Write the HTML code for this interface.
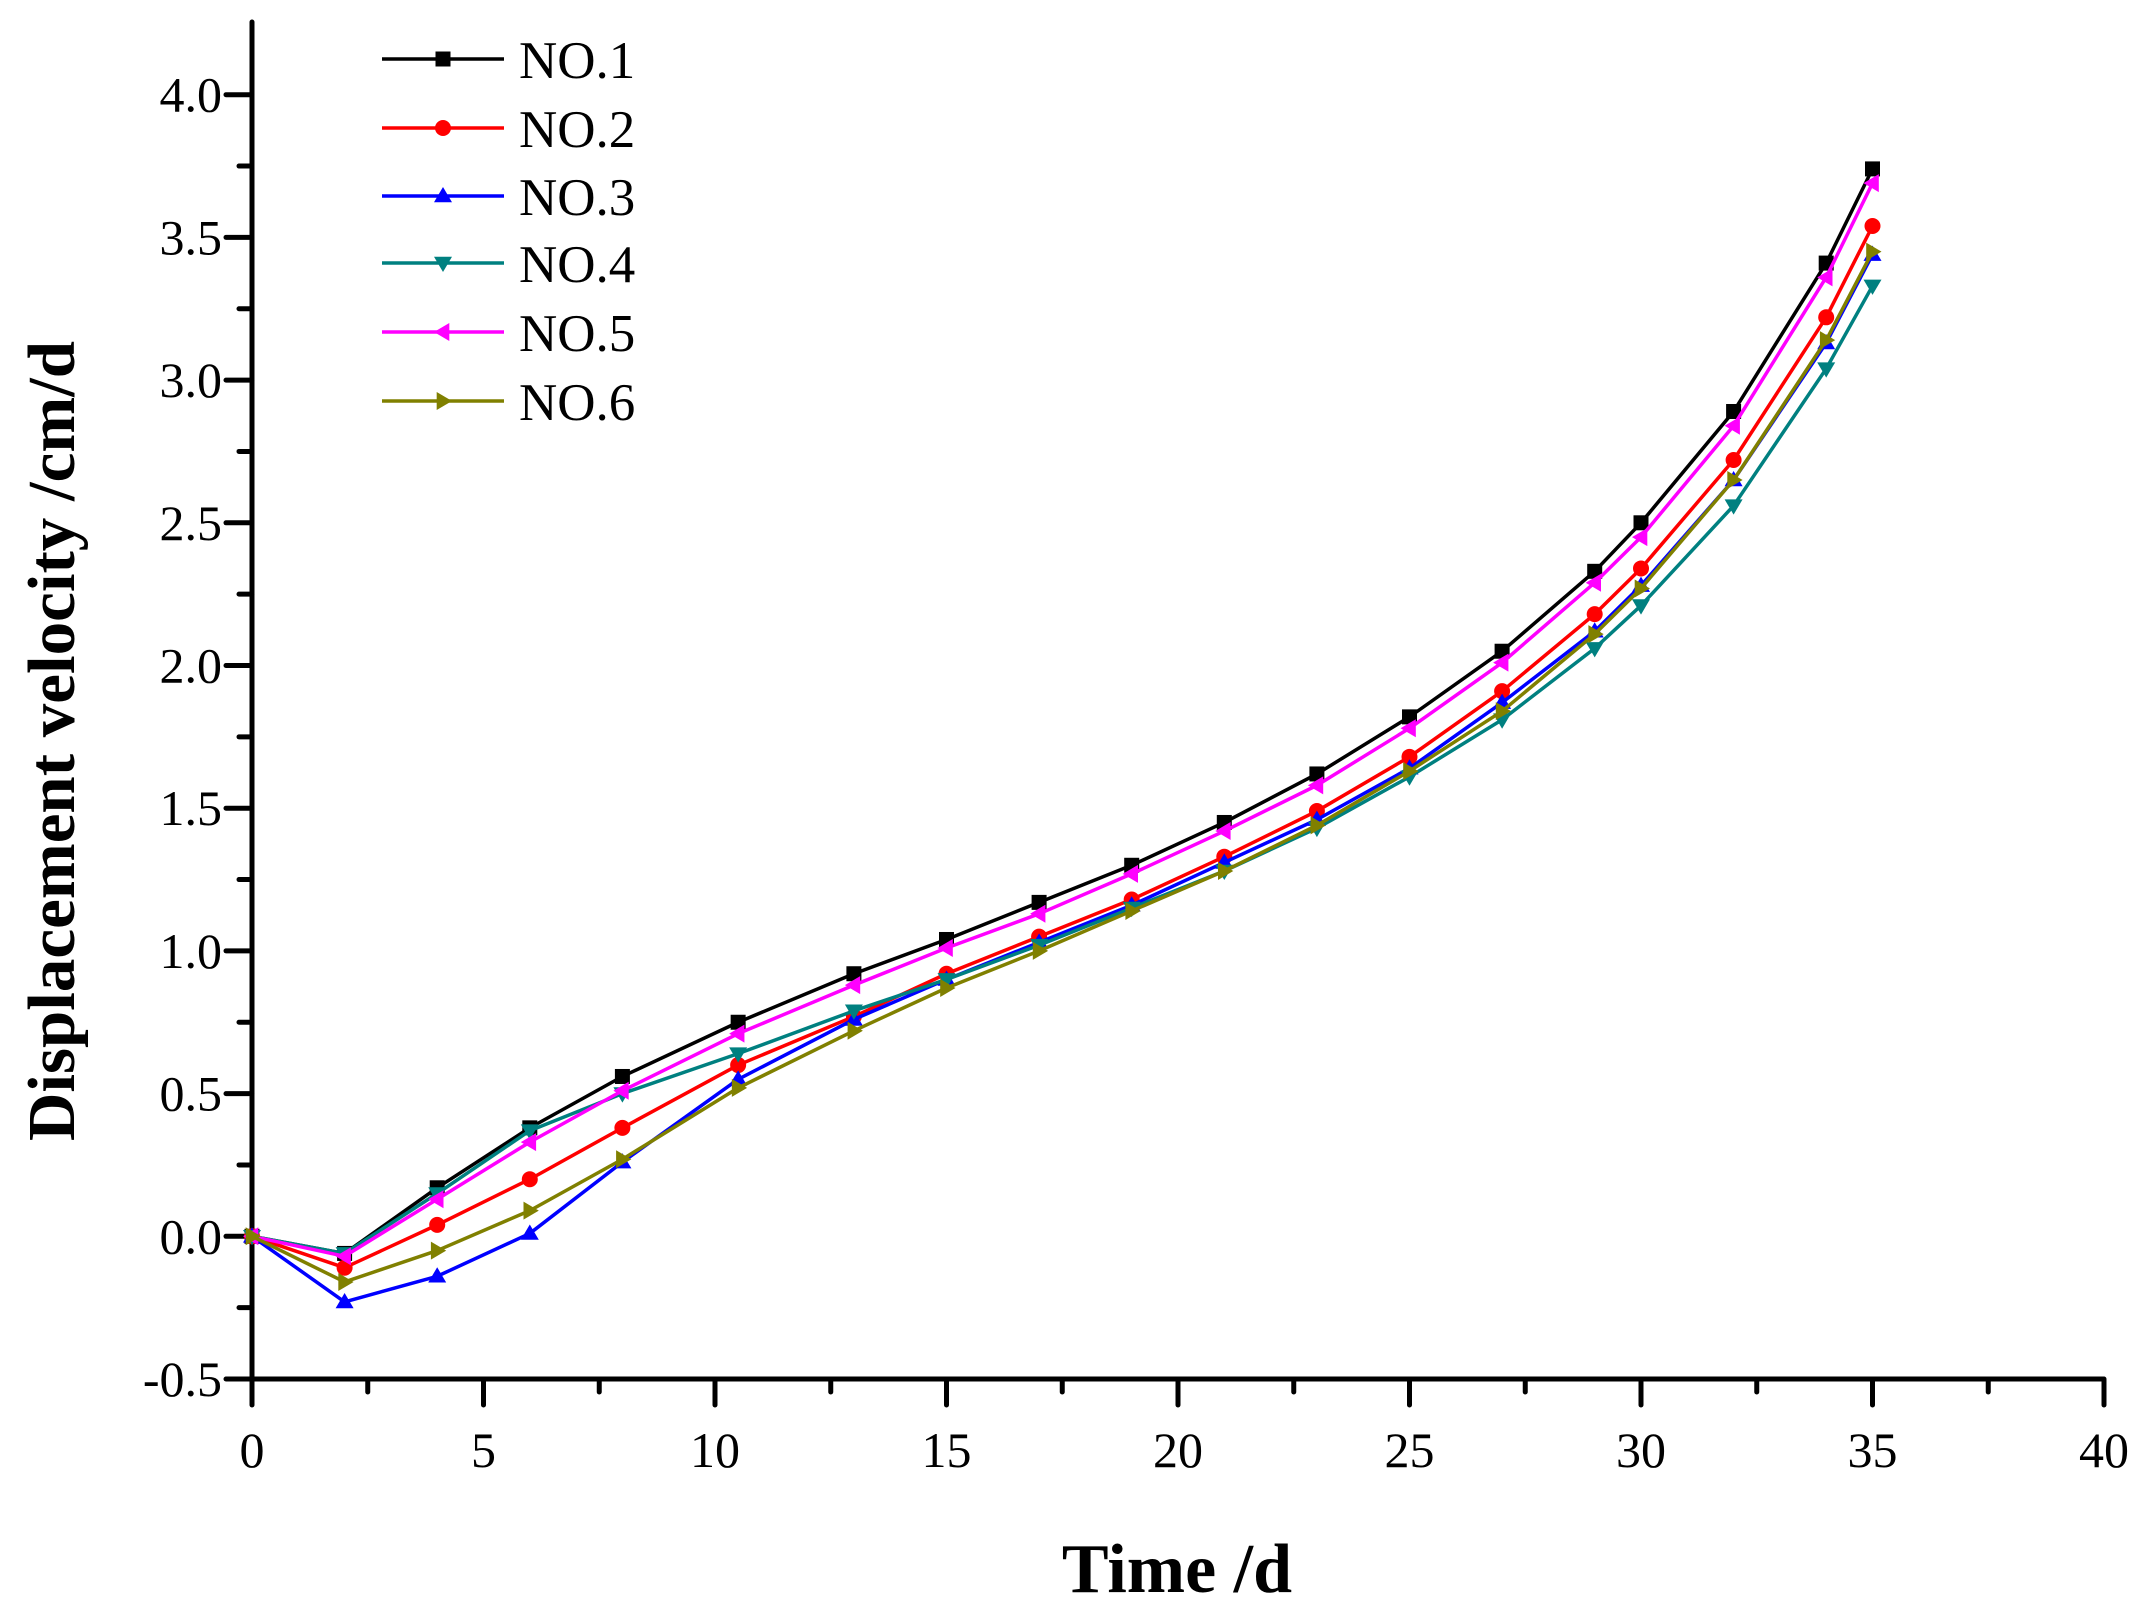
<!DOCTYPE html>
<html><head><meta charset="utf-8"><style>
html,body{margin:0;padding:0;background:#fff;}
svg{display:block;}
text{font-family:"Liberation Serif",serif;fill:#000;}
</style></head><body>
<svg id="s" width="2151" height="1618" viewBox="0 0 2151 1618" xmlns="http://www.w3.org/2000/svg">
<g id="ax" stroke="#000" stroke-width="5" stroke-linecap="round"></g>
<g id="lab" font-size="50"></g>
<g id="ser"></g>
<text x="1177" y="1592" font-size="70" font-weight="bold" text-anchor="middle">Time /d</text>
<text transform="translate(74,741) rotate(-90)" font-size="67" font-weight="bold" text-anchor="middle">Displacement velocity /cm/d</text>
<g id="leg" font-size="53"></g>
</svg>
<script>
const NS="http://www.w3.org/2000/svg";
function el(p,t,a,txt){const e=document.createElementNS(NS,t);for(const k in a)e.setAttribute(k,a[k]);if(txt!==undefined)e.textContent=txt;p.appendChild(e);return e;}
const X0=252,PX=46.3,Y0=1236.3,PY=285.4;
const fx=x=>X0+x*PX, fy=v=>Y0-v*PY;
const ax=document.getElementById('ax'),lab=document.getElementById('lab');
el(ax,'line',{x1:252,y1:22,x2:252,y2:1379});
el(ax,'line',{x1:252,y1:1379,x2:2103,y2:1379});
for(let i=0;i<=18;i++){const v=-0.5+i*0.25;const y=fy(v);const maj=i%2==0;
 el(ax,'line',{x1:252,y1:y,x2:maj?226:239,y2:y});
 if(maj) el(lab,'text',{x:222,y:y+17,'text-anchor':'end'},v.toFixed(1));}
for(let i=0;i<=16;i++){const x=i*2.5;const px=fx(x);const maj=i%2==0;
 el(ax,'line',{x1:px,y1:1379,x2:px,y2:maj?1405:1392});
 if(maj) el(lab,'text',{x:px,y:1467,'text-anchor':'middle'},String(x));}
const xs=[0,2,4,6,8,10.5,13,15,17,19,21,23,25,27,29,30,32,34,35];
const S=[
['#000','sq',[0,-0.06,0.17,0.38,0.56,0.75,0.92,1.04,1.17,1.30,1.45,1.62,1.82,2.05,2.33,2.50,2.89,3.41,3.74]],
['#f00','ci',[0,-0.11,0.04,0.20,0.38,0.60,0.77,0.92,1.05,1.18,1.33,1.49,1.68,1.91,2.18,2.34,2.72,3.22,3.54]],
['#00f','up',[0,-0.23,-0.14,0.01,0.26,0.55,0.76,0.90,1.03,1.16,1.31,1.46,1.64,1.87,2.12,2.28,2.65,3.13,3.44]],
['#008080','dn',[0,-0.06,0.15,0.37,0.50,0.64,0.79,0.90,1.02,1.15,1.28,1.43,1.61,1.81,2.06,2.21,2.56,3.04,3.33]],
['#f0f','lt',[0,-0.07,0.13,0.33,0.51,0.71,0.88,1.01,1.13,1.27,1.42,1.58,1.78,2.01,2.29,2.45,2.84,3.36,3.69]],
['#808000','rt',[0,-0.16,-0.05,0.09,0.27,0.52,0.72,0.87,1.00,1.14,1.28,1.44,1.63,1.84,2.11,2.27,2.65,3.14,3.45]]];
function mark(g,t,x,y,c){const r=9;let p;
 if(t=='sq') return el(g,'rect',{x:x-7.5,y:y-7.5,width:15,height:15,fill:c});
 if(t=='ci') return el(g,'circle',{cx:x,cy:y,r:8,fill:c});
 if(t=='up') p=[[x,y-r],[x+r,y+r*0.7],[x-r,y+r*0.7]];
 if(t=='dn') p=[[x,y+r],[x+r,y-r*0.7],[x-r,y-r*0.7]];
 if(t=='lt') p=[[x-r,y],[x+r*0.7,y-r],[x+r*0.7,y+r]];
 if(t=='rt') p=[[x+r,y],[x-r*0.7,y-r],[x-r*0.7,y+r]];
 el(g,'polygon',{points:p.map(a=>a.join(',')).join(' '),fill:c});}
const ser=document.getElementById('ser'),leg=document.getElementById('leg');
const ly=[59,128,196,263,332,401];
S.forEach((s,i)=>{const [c,t,v]=s;
 el(ser,'polyline',{points:xs.map((x,j)=>fx(x)+','+fy(v[j])).join(' '),fill:'none',stroke:c,'stroke-width':3.5,'stroke-linejoin':'round'});
 xs.forEach((x,j)=>mark(ser,t,fx(x),fy(v[j]),c));
 el(leg,'line',{x1:382,y1:ly[i],x2:504,y2:ly[i],stroke:c,'stroke-width':3.5});
 mark(leg,t,443,ly[i],c);
 el(leg,'text',{x:519,y:ly[i]+19},'NO.'+(i+1));
});
</script>
</body></html>
